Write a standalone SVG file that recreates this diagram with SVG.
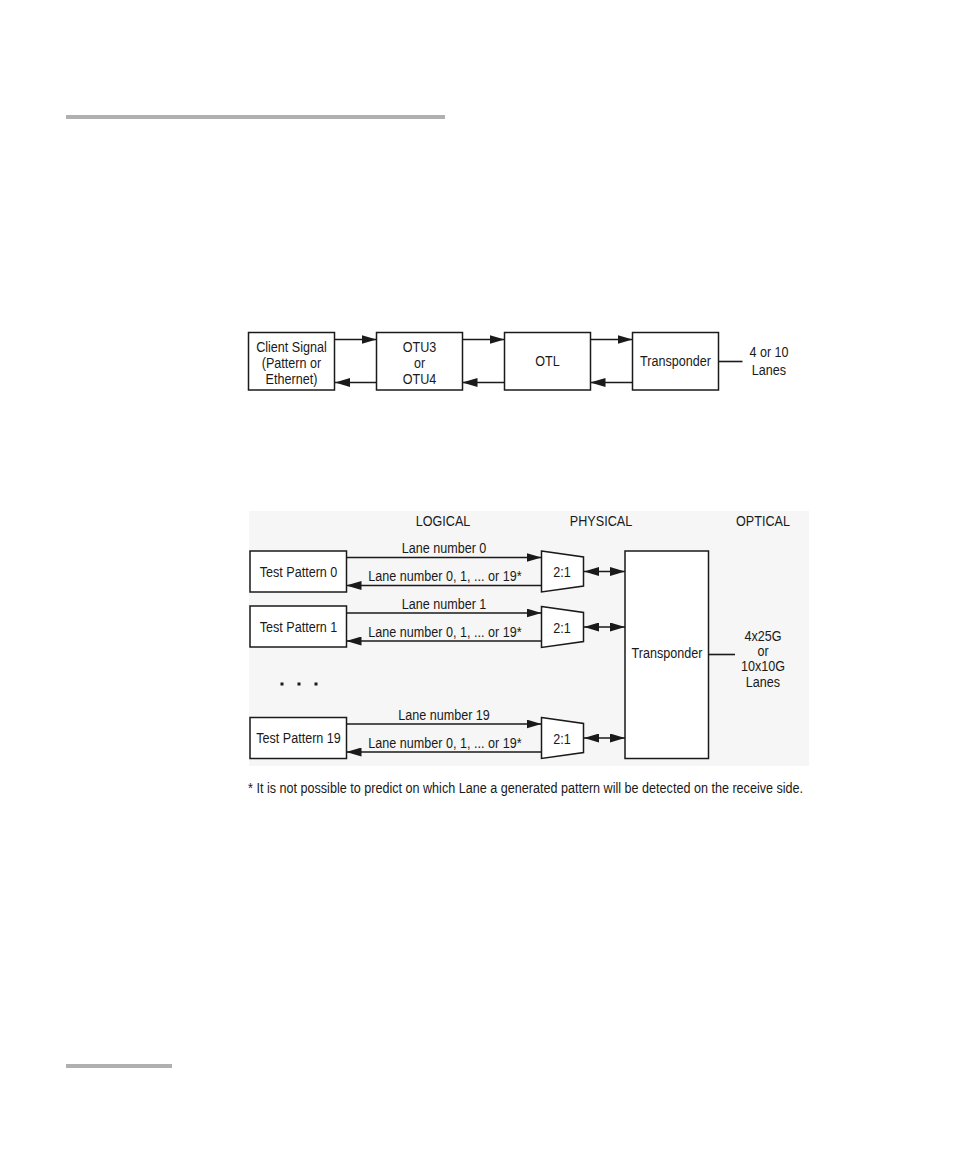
<svg xmlns="http://www.w3.org/2000/svg" width="954" height="1158" viewBox="0 0 954 1158">
<style>
text{font-family:"Liberation Sans",Arial,sans-serif;font-size:15px;fill:#1a1a1a;text-anchor:middle}
.box{fill:#fff;stroke:#1a1a1a;stroke-width:1.5}
.ln{stroke:#1a1a1a;stroke-width:1.6;fill:none}
.fw{marker-end:url(#ah)}
.dbl{marker-start:url(#ah);marker-end:url(#ah)}
</style>
<defs>
<marker id="ah" markerUnits="userSpaceOnUse" markerWidth="15" markerHeight="9" refX="15" refY="4.5" orient="auto-start-reverse"><path d="M0,0 L15,4.5 L0,9 z" fill="#1a1a1a"/></marker>
</defs>
<rect width="954" height="1158" fill="#fff"/>
<rect x="66" y="115" width="379" height="4" fill="#b0b0b0"/>
<rect x="66" y="1064" width="106" height="4" fill="#b0b0b0"/>

<g id="connectors-top">
<line class="ln fw" x1="335" y1="339.5" x2="376.5" y2="339.5"/>
<line class="ln fw" x1="376.5" y1="382.5" x2="335" y2="382.5"/>
<line class="ln fw" x1="462.5" y1="339.5" x2="504.5" y2="339.5"/>
<line class="ln fw" x1="504.5" y1="382.5" x2="462.5" y2="382.5"/>
<line class="ln fw" x1="590.5" y1="339.5" x2="632.5" y2="339.5"/>
<line class="ln fw" x1="632.5" y1="382.5" x2="590.5" y2="382.5"/>
<line class="ln" x1="718.5" y1="361.5" x2="742.5" y2="361.5"/>
</g>
<g id="client"><rect class="box" x="248.5" y="332.5" width="86" height="57.5"/><text transform="translate(291.5 352) scale(0.84 1)">Client Signal</text><text transform="translate(291.5 368) scale(0.84 1)">(Pattern or</text><text transform="translate(291.5 384) scale(0.84 1)">Ethernet)</text></g>
<g id="otu"><rect class="box" x="376.5" y="332.5" width="86" height="57.5"/><text transform="translate(419.5 352) scale(0.84 1)">OTU3</text><text transform="translate(419.5 368) scale(0.84 1)">or</text><text transform="translate(419.5 384) scale(0.84 1)">OTU4</text></g>
<g id="otl"><rect class="box" x="504.5" y="332.5" width="86" height="57.5"/><text transform="translate(547.5 366) scale(0.84 1)">OTL</text></g>
<g id="transponder1"><rect class="box" x="632.5" y="332.5" width="86" height="57.5"/><text transform="translate(675.5 366) scale(0.84 1)">Transponder</text></g>
<g id="lanes1"><text transform="translate(769 357) scale(0.84 1)">4 or 10</text><text transform="translate(769 375) scale(0.84 1)">Lanes</text></g>

<rect x="249" y="511" width="560" height="255" fill="#f6f6f6"/>
<g id="headers"><text transform="translate(443 526) scale(0.84 1)">LOGICAL</text><text transform="translate(601 526) scale(0.84 1)">PHYSICAL</text><text transform="translate(763 526) scale(0.84 1)">OPTICAL</text></g>

<g id="connectors-bottom">
<line class="ln fw" x1="346.5" y1="557.5" x2="541.5" y2="557.5"/>
<line class="ln fw" x1="541.5" y1="585.5" x2="346.5" y2="585.5"/>
<line class="ln dbl" x1="584" y1="571.5" x2="625" y2="571.5"/>
<line class="ln fw" x1="346.5" y1="613" x2="541.5" y2="613"/>
<line class="ln fw" x1="541.5" y1="641" x2="346.5" y2="641"/>
<line class="ln dbl" x1="584" y1="627" x2="625" y2="627"/>
<line class="ln fw" x1="346.5" y1="724" x2="541.5" y2="724"/>
<line class="ln fw" x1="541.5" y1="752" x2="346.5" y2="752"/>
<line class="ln dbl" x1="584" y1="738" x2="625" y2="738"/>
<line class="ln" x1="708.5" y1="654.5" x2="735" y2="654.5"/>
</g>
<g id="labels">
<text transform="translate(444 553) scale(0.84 1)">Lane number 0</text>
<text transform="translate(445 581) scale(0.84 1)">Lane number 0, 1, ... or 19*</text>
<text transform="translate(444 609) scale(0.84 1)">Lane number 1</text>
<text transform="translate(445 637) scale(0.84 1)">Lane number 0, 1, ... or 19*</text>
<text transform="translate(444 720) scale(0.84 1)">Lane number 19</text>
<text transform="translate(445 748) scale(0.84 1)">Lane number 0, 1, ... or 19*</text>
</g>
<g id="tp0"><rect class="box" x="250" y="551" width="96.5" height="41"/><text transform="translate(298.5 577) scale(0.84 1)">Test Pattern 0</text></g>
<g id="tp1"><rect class="box" x="250" y="606" width="96.5" height="41"/><text transform="translate(298.5 632) scale(0.84 1)">Test Pattern 1</text></g>
<g id="dots"><rect x="280.5" y="682.5" width="3" height="3" fill="#1a1a1a"/><rect x="297.5" y="682.5" width="3" height="3" fill="#1a1a1a"/><rect x="314.5" y="682.5" width="3" height="3" fill="#1a1a1a"/></g>
<g id="tp19"><rect class="box" x="250" y="717.5" width="96.5" height="41"/><text transform="translate(298.5 743) scale(0.84 1)">Test Pattern 19</text></g>
<g id="mux0"><polygon class="box" points="541.5,551 583.5,557 583.5,586 541.5,592"/><text transform="translate(562 577) scale(0.84 1)">2:1</text></g>
<g id="mux1"><polygon class="box" points="541.5,606.5 583.5,612.5 583.5,641.5 541.5,647.5"/><text transform="translate(562 632.5) scale(0.84 1)">2:1</text></g>
<g id="mux19"><polygon class="box" points="541.5,717.5 583.5,723.5 583.5,752.5 541.5,758.5"/><text transform="translate(562 743.5) scale(0.84 1)">2:1</text></g>
<g id="transponder2"><rect class="box" x="625" y="551" width="83.5" height="207.5"/><text transform="translate(667 658) scale(0.84 1)">Transponder</text></g>
<g id="lanes2"><text transform="translate(763 641) scale(0.84 1)">4x25G</text><text transform="translate(763 656) scale(0.84 1)">or</text><text transform="translate(763 671) scale(0.84 1)">10x10G</text><text transform="translate(763 687) scale(0.84 1)">Lanes</text></g>
<text transform="translate(248 793) scale(0.84 1)" style="text-anchor:start">* It is not possible to predict on which Lane a generated pattern will be detected on the receive side.</text>
</svg>
